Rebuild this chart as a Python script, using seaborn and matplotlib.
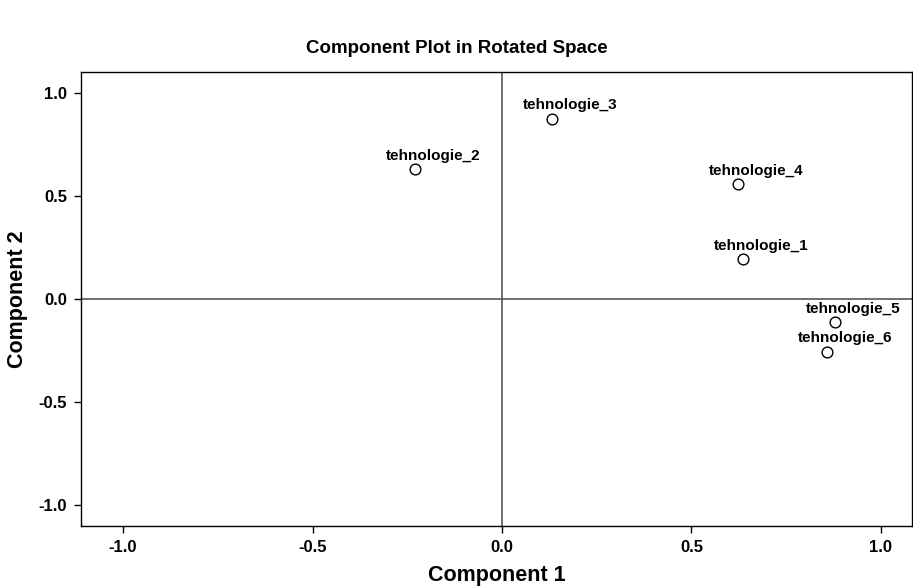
import matplotlib
matplotlib.use("Agg")
import matplotlib.pyplot as plt
import seaborn as sns
import pandas as pd

# loadings
items = ["tehnologie_1", "tehnologie_2", "tehnologie_3",
         "tehnologie_4", "tehnologie_5", "tehnologie_6"]
comp1 = [0.637, -0.230, 0.133, 0.622, 0.880, 0.857]
comp2 = [0.193, 0.630, 0.874, 0.558, -0.112, -0.255]
ticks = [-1.0, -0.5, 0.0, 0.5, 1.0]
tick_labels = ["-1.0", "-0.5", "0.0", "0.5", "1.0"]

df = pd.DataFrame({"item": items, "Component 1": comp1, "Component 2": comp2})

sns.set_style("white")
plt.rcParams['font.family'] = ['Liberation Sans', 'DejaVu Sans']
plt.rcParams.update({"text.color": "black", "axes.labelcolor": "black",
                     "xtick.color": "black", "ytick.color": "black"})

fig = plt.figure(figsize=(9.13, 5.86), dpi=100)
ax = fig.add_axes([81 / 913, 60 / 586, 831 / 913, 454 / 586])

ax.axvline(0, color="#555555", lw=1.2, zorder=1)
ax.axhline(0, color="#555555", lw=1.2, zorder=1)

sns.scatterplot(data=df, x="Component 1", y="Component 2", ax=ax,
                marker="o", s=60, facecolor="white", edgecolor="black",
                linewidth=1.0, zorder=3)

for _, row in df.iterrows():
    ax.annotate(row["item"], (row["Component 1"], row["Component 2"]),
                xytext=(13, 4.5), textcoords="offset points",
                ha="center", va="bottom", fontsize=11, fontweight="bold",
                color="black")

ax.set_xlim(-1.111, 1.082)
ax.set_ylim(-1.10, 1.10)
ax.set_xticks(ticks)
ax.set_xticklabels(tick_labels, fontsize=12, fontweight="bold")
ax.set_yticks(ticks)
ax.set_yticklabels(tick_labels, fontsize=12, fontweight="bold")
ax.tick_params(axis="both", direction="out", length=5, width=1, color="black",
               bottom=True, left=True, pad=5)
for sp in ax.spines.values():
    sp.set_color("black")
    sp.set_linewidth(1.0)

ax.set_xlabel("Component 1", fontsize=15.5, fontweight="bold", labelpad=7)
ax.set_ylabel("Component 2", fontsize=15.5, fontweight="bold", labelpad=8)
fig.suptitle("Component Plot in Rotated Space", x=0.5, y=0.932,
             fontsize=13.5, fontweight="bold")

fig.savefig("out.png", dpi=100, facecolor="white")
